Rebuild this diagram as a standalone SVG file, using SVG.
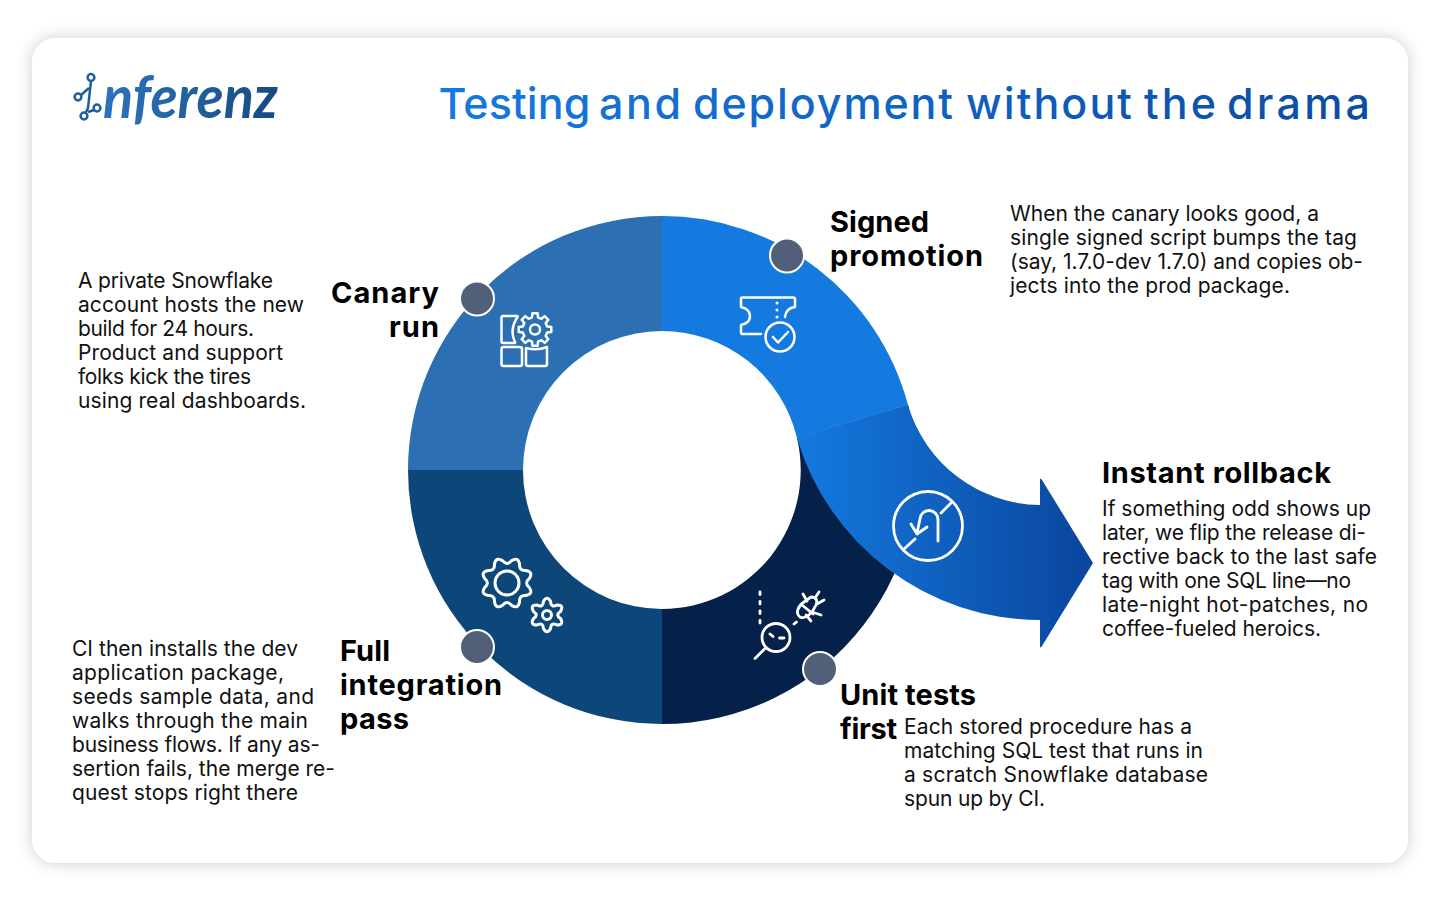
<svg xmlns="http://www.w3.org/2000/svg" width="1440" height="900" viewBox="0 0 1440 900">
<defs>
<filter id="sh" x="-5%" y="-5%" width="110%" height="110%"><feDropShadow dx="0" dy="0" stdDeviation="8" flood-color="#000" flood-opacity="0.2"/></filter>
<linearGradient id="tg" gradientUnits="userSpaceOnUse" x1="440" y1="0" x2="1370" y2="0"><stop offset="0" stop-color="#147ADF"/><stop offset="1" stop-color="#0B4CA3"/></linearGradient>
<linearGradient id="lg" gradientUnits="userSpaceOnUse" x1="110" y1="0" x2="280" y2="0"><stop offset="0" stop-color="#2C72B8"/><stop offset="1" stop-color="#154B80"/></linearGradient>
<linearGradient id="ag" gradientUnits="userSpaceOnUse" x1="797" y1="0" x2="1093" y2="0"><stop offset="0" stop-color="#147ADF"/><stop offset="1" stop-color="#0A459D"/></linearGradient>
<style>
text{font-family:"Inter","Liberation Sans",sans-serif}
.b{font-size:21px;font-weight:400;fill:#111}
.h{font-size:29px;font-weight:700;fill:#000}
.dot{fill:#516078;stroke:#fff;stroke-width:2}
.ic{fill:none;stroke:#fff;stroke-width:2.5;stroke-linecap:round;stroke-linejoin:round}
</style>
</defs>
<rect width="1440" height="900" fill="#fff"/>
<rect x="32" y="38" width="1376" height="825" rx="24" fill="#fff" filter="url(#sh)"/>
<g id="logo">
<g fill="none" stroke="#1F5F9E" stroke-width="2.5"><circle cx="91" cy="77.500" r="3.400"/><circle cx="78" cy="97" r="3.400"/><circle cx="97" cy="108" r="3.400"/><circle cx="84" cy="116" r="3.400"/><path d="M91 81 L88 108 L85.500 113 M81 95 L89 88 M88 112 L94 110"/></g>
<text x="103" y="118" font-style="italic" style="font-family:'Lato',sans-serif;font-size:60px;font-weight:700;fill:url(#lg)" textLength="175" lengthAdjust="spacingAndGlyphs">nferenz</text>
</g>
<text id="title" y="119" style="font-size:43px;font-weight:500;fill:url(#tg)"><tspan x="438.500" textLength="152" lengthAdjust="spacing">Testing</tspan> <tspan x="599" textLength="82" lengthAdjust="spacing">and</tspan> <tspan x="693" textLength="260" lengthAdjust="spacing">deployment</tspan> <tspan x="966" textLength="166" lengthAdjust="spacing">without</tspan> <tspan x="1144" textLength="72" lengthAdjust="spacing">the</tspan> <tspan x="1227" textLength="143" lengthAdjust="spacing">drama</tspan></text>
<g id="ring">
<path id="seg-canary" fill="#2C6FB3" d="M662 216A254 254 0 0 0 408 470H523A139 139 0 0 1 662 331Z"/>
<path id="seg-full" fill="#0D477A" d="M408 470A254 254 0 0 0 662 724V609A139 139 0 0 1 523 470Z"/>
<path id="seg-unit" fill="#052049" d="M662 724A254 254 0 0 0 908 405L797 438A139 139 0 0 1 662 609Z"/>
<path id="seg-signed" fill="#147ADF" d="M662 216A254 254 0 0 1 908 405L797 438A139 139 0 0 0 662 331Z"/>
<path id="seg-rollback" fill="url(#ag)" d="M908 405A139 139 0 0 0 1040 505V480Q1040 477 1042 480L1093 563L1042 646Q1040 649 1040 646V620A254 254 0 0 1 797 438Z"/>
</g>
<g id="icon-canary" class="ic">
<path d="M503 316H517Q518 316 517.500 317Q509 330 515 342Q515.500 343 514 343H503Q501.500 343 501.500 341V318Q501.500 316 503 316Z"/>
<rect x="501.500" y="347" width="20.500" height="19" rx="2"/>
<path d="M526 348Q537 351 547 347V364Q547 366 545 366H528Q526 366 526 364Z"/>
<circle cx="535" cy="329.500" r="5"/>
<polygon transform="translate(535 329.500)" points="12.13,-3.02 16.3,-2.58 16.3,2.58 12.13,3.02 10.71,6.44 13.35,9.7 9.7,13.35 6.44,10.71 3.02,12.13 2.58,16.3 -2.58,16.3 -3.02,12.13 -6.44,10.71 -9.7,13.35 -13.35,9.7 -10.71,6.44 -12.13,3.02 -16.3,2.58 -16.3,-2.58 -12.13,-3.02 -10.71,-6.44 -13.35,-9.7 -9.7,-13.35 -6.44,-10.71 -3.02,-12.13 -2.58,-16.3 2.58,-16.3 3.02,-12.13 6.44,-10.71 9.7,-13.35 13.35,-9.7 10.71,-6.44"/>
</g>
<g id="icon-signed" class="ic">
<path d="M761 334H742Q741 334 741 332V325Q750 323 750 316Q750 309 741 307V299Q741 297.500 742 297.500H793Q795 297.500 795 299V307Q786 308 785 317"/>
<path d="M777 303V318" stroke-dasharray="0 7" style="stroke-width:3"/>
<circle cx="780" cy="337" r="14.500"/>
<path d="M773 337L778 342.500L788 332"/>
</g>
<g id="icon-full" class="ic" style="stroke-width:3">
<circle cx="507" cy="583" r="12"/>
<path transform="translate(507 583)" d="M22.17,-4.41Q17,0 22.17,4.41Q26.8,11.1 18.78,12.57Q12.02,12.02 12.57,18.78Q11.1,26.8 4.41,22.17Q0,17 -4.41,22.17Q-11.1,26.8 -12.57,18.78Q-12.02,12.02 -18.78,12.57Q-26.8,11.1 -22.17,4.41Q-17,0 -22.17,-4.41Q-26.8,-11.1 -18.78,-12.57Q-12.02,-12.02 -12.57,-18.78Q-11.1,-26.8 -4.41,-22.17Q0,-17 4.41,-22.17Q11.1,-26.8 12.57,-18.78Q12.02,-12.02 18.78,-12.57Q26.8,-11.1 22.17,-4.41Z"/>
<circle cx="547" cy="615" r="4.500"/>
<path transform="translate(547 615)" d="M-3.62,-13.52Q0,-20 3.62,-13.52Q4,-6.93 9.9,-9.9Q17.32,-10 13.52,-3.62Q8,0 13.52,3.62Q17.32,10 9.9,9.9Q4,6.93 3.62,13.52Q0,20 -3.62,13.52Q-4,6.93 -9.9,9.9Q-17.32,10 -13.52,3.62Q-8,0 -13.52,-3.62Q-17.32,-10 -9.9,-9.9Q-4,-6.93 -3.62,-13.52Z"/>
</g>
<g id="icon-unit" class="ic" style="stroke-width:2.800">
<path d="M760 592V624" stroke-dasharray="2.500 7"/>
<circle cx="776" cy="637.500" r="14"/>
<path d="M766 647.500L755 658.500M770 634L773 636.500M779.500 638H784M794 624L796.500 622"/>
<path d="M800 617C795 613 798 606 804 602L811 597C816 597 818 600 816 605C813 612 806 620 800 617Z"/>
<path d="M802 605L813 614M807 601L803 594M815 598L819 592M817 604L824 600M812 612L821 615M806 615L811 621"/>
</g>
<g id="icon-rollback" class="ic" style="stroke-width:2.800">
<circle cx="928" cy="526" r="34.500"/>
<path d="M904 549L915 539M941 513L951 503"/>
<path d="M938 541V520A9 9 0 0 0 920 519L917 533M911 524L917 534L927 527"/>
</g>
<g id="dots">
<circle class="dot" cx="477" cy="298.500" r="17"/>
<circle class="dot" cx="787" cy="255.500" r="17"/>
<circle class="dot" cx="477" cy="647" r="17"/>
<circle class="dot" cx="820" cy="669" r="17"/>
</g>
<g id="node-signed">
<text class="h" x="830" y="231.500" textLength="99">Signed</text>
<text class="h" x="830" y="265.500" textLength="153">promotion</text>
<g class="b"><text x="1010" y="221" textLength="309">When the canary looks good, a</text>
<text x="1010" y="245" textLength="347">single signed script bumps the tag</text>
<text x="1010" y="269" textLength="353">(say, 1.7.0-dev 1.7.0) and copies ob-</text>
<text x="1010" y="293" textLength="280">jects into the prod package.</text></g>
</g>
<g id="node-canary">
<text class="h" x="331" y="303" textLength="108">Canary</text>
<text class="h" x="389" y="337" textLength="50">run</text>
<g class="b"><text x="78" y="288" textLength="195">A private Snowflake</text>
<text x="78" y="312" textLength="226">account hosts the new</text>
<text x="78" y="336" textLength="176">build for 24 hours.</text>
<text x="78" y="360" textLength="205">Product and support</text>
<text x="78" y="384" textLength="173">folks kick the tires</text>
<text x="78" y="408" textLength="228">using real dashboards.</text></g>
</g>
<g id="node-full">
<text class="h" x="340" y="661" textLength="50">Full</text>
<text class="h" x="340" y="695" textLength="162">integration</text>
<text class="h" x="340" y="729" textLength="69">pass</text>
<g class="b"><text x="72" y="656" textLength="226">CI then installs the dev</text>
<text x="72" y="680" textLength="212">application package,</text>
<text x="72" y="704" textLength="242">seeds sample data, and</text>
<text x="72" y="728" textLength="236">walks through the main</text>
<text x="72" y="752" textLength="248">business flows. If any as-</text>
<text x="72" y="776" textLength="263">sertion fails, the merge re-</text>
<text x="72" y="800" textLength="226">quest stops right there</text></g>
</g>
<g id="node-unit">
<text class="h" x="840" y="705" textLength="136">Unit tests</text>
<text class="h" x="840" y="739" textLength="57">first</text>
<g class="b"><text x="904" y="734" textLength="288">Each stored procedure has a</text>
<text x="904" y="758" textLength="299">matching SQL test that runs in</text>
<text x="904" y="782" textLength="304">a scratch Snowflake database</text>
<text x="904" y="806" textLength="141">spun up by CI.</text></g>
</g>
<g id="node-rollback">
<text class="h" x="1102" y="483" textLength="229">Instant rollback</text>
<g class="b"><text x="1102" y="516" textLength="269">If something odd shows up</text>
<text x="1102" y="540" textLength="264">later, we flip the release di-</text>
<text x="1102" y="564" textLength="275">rective back to the last safe</text>
<text x="1102" y="588" textLength="249">tag with one SQL line—no</text>
<text x="1102" y="612" textLength="266">late-night hot-patches, no</text>
<text x="1102" y="636" textLength="219">coffee-fueled heroics.</text></g>
</g>
</svg>
